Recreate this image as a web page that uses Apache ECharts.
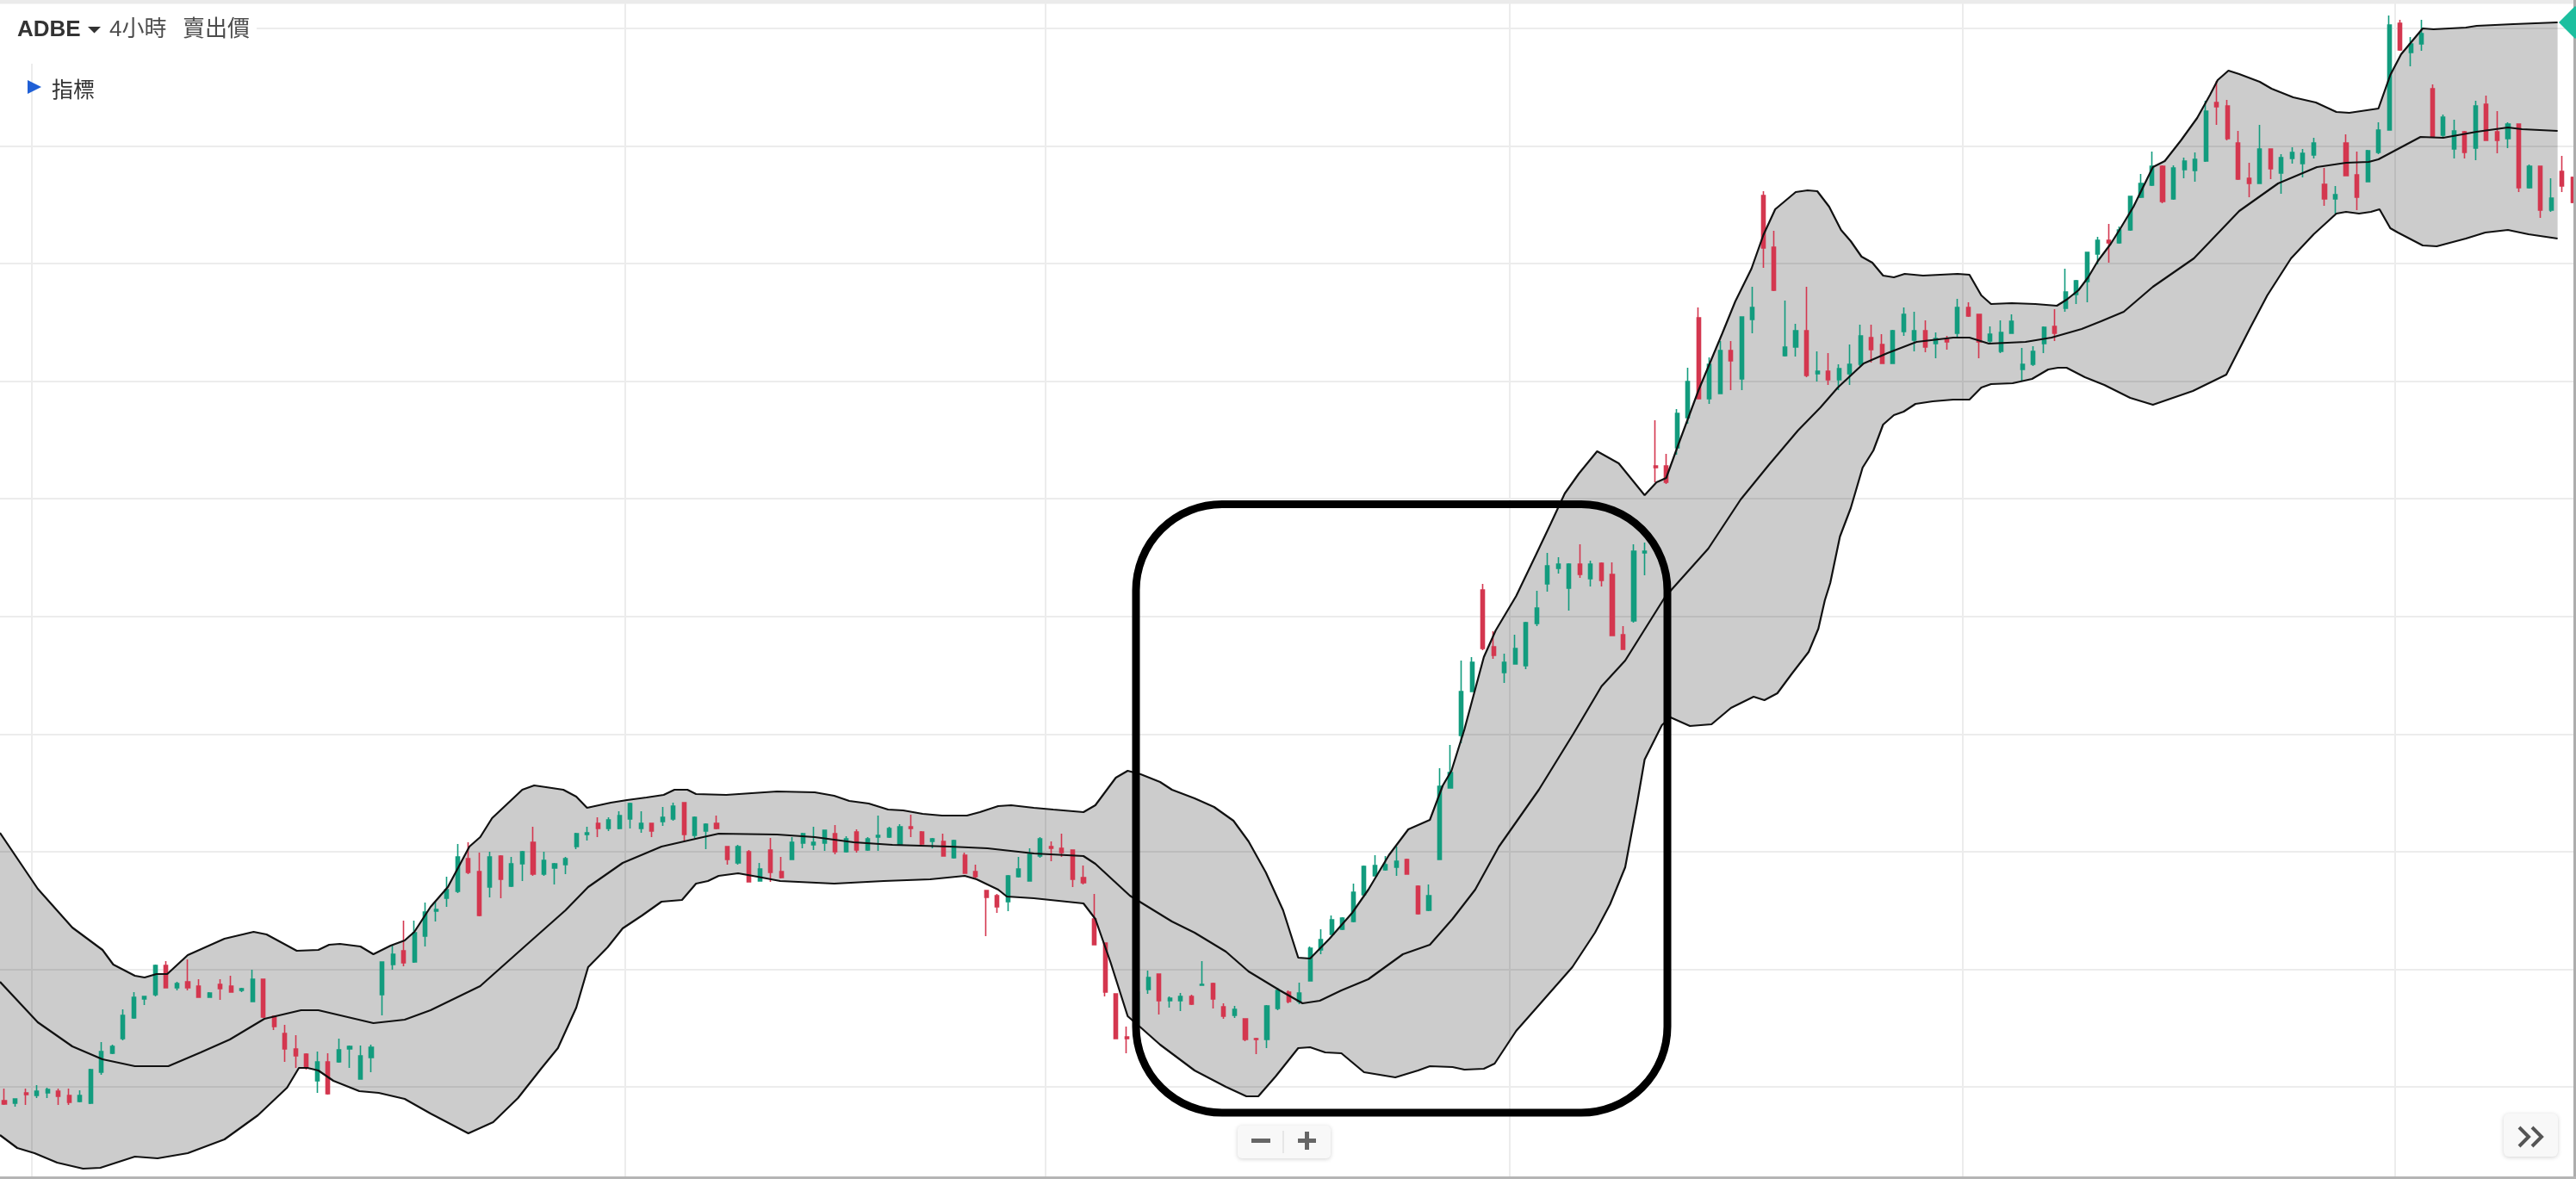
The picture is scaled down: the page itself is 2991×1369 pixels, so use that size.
<!DOCTYPE html>
<html><head><meta charset="utf-8">
<script src="https://cdn.jsdelivr.net/npm/echarts@6/dist/echarts.min.js"></script>
<style>html,body{margin:0;padding:0;background:#fff;overflow:hidden}#c{width:2991px;height:1369px}</style>
</head><body><div id="c"></div>
<script>
// ---- 4h candles (open / close / low / high) ----
const openP = [
412.2,411.9,413.1,412.8,413.1,413.3,412.8,412.1,411.9,415.5,
417.7,419.4,421.8,424.0,424.5,427.9,425.3,426.0,425.5,424.2,
425.7,425.5,425.0,423.7,426.3,422.0,420.0,418.2,417.6,414.5,
416.7,416.7,418.2,414.7,417.2,424.5,428.0,429.6,428.3,431.3,
434.2,435.7,436.5,440.3,438.8,437.0,440.6,437.1,439.7,442.2,
438.5,439.2,439.6,441.7,443.1,444.4,443.8,443.8,444.9,443.8,
444.4,444.6,444.9,446.8,443.0,443.5,444.4,441.7,439.8,441.1,
437.7,441.3,438.8,440.2,442.1,441.9,442.1,443.2,441.1,443.4,
441.3,442.8,442.8,441.9,444.0,443.4,442.3,442.3,440.4,440.7,
438.8,436.6,436.0,435.3,438.2,437.7,440.6,441.7,441.5,441.3,
438.1,433.3,430.5,424.6,419.6,421.0,425.1,426.9,423.8,423.8,
424.3,425.6,425.8,423.1,422.1,421.7,419.4,419.3,422.9,424.8,
423.7,426.1,429.7,431.5,432.1,433.0,436.1,438.3,439.0,439.3,
440.2,437.1,434.3,440.2,448.5,454.6,459.7,471.5,464.9,461.9,
462.9,462.7,467.6,472.2,474.0,471.7,474.5,472.8,474.6,473.3,
466.3,467.9,475.8,485.9,485.9,488.0,491.5,503.1,493.7,494.3,
499.3,496.0,502.9,517.3,511.3,498.7,499.7,501.6,496.6,496.9,
495.9,496.6,497.7,500.8,500.0,497.8,501.5,500.5,501.6,500.1,
500.6,501.3,504.3,503.5,500.4,499.2,501.3,497.1,497.7,500.1,
502.1,504.2,505.8,507.3,510.5,512.1,511.8,513.3,517.1,518.5,
520.7,516.9,520.3,520.2,521.3,528.1,527.7,523.4,519.3,518.7,
522.7,519.9,521.6,521.0,522.0,518.6,516.9,523.4,519.7,518.9,
522.3,524.9,537.3,533.9,534.9,529.7,524.3,522.7,524.7,522.8,
527.9,524.7,523.9,525.6,518.2,520.7,515.6,520.1,519.4];
const closeP = [
411.8,412.4,412.9,413.3,413.5,412.7,412.0,412.8,415.8,417.9,
418.5,422.1,424.2,424.3,427.9,425.3,425.8,425.3,424.2,424.7,
425.2,424.8,425.2,426.3,421.9,420.8,418.2,417.4,416.0,416.7,
413.0,418.1,418.5,417.4,418.4,428.3,429.2,428.2,431.7,434.1,
434.4,436.7,440.5,438.7,433.7,440.5,437.9,439.7,441.1,438.5,
440.1,439.7,440.3,443.2,443.3,443.8,444.8,445.3,446.7,444.4,
443.5,445.1,446.4,443.1,445.1,444.3,443.8,440.2,441.7,437.6,
439.1,438.7,438.1,442.2,443.2,442.2,443.6,441.1,442.6,441.3,
442.6,443.0,443.8,444.0,443.8,442.0,442.6,440.6,442.4,438.6,
438.2,435.8,434.7,438.3,439.1,440.8,442.6,441.5,441.0,437.9,
437.5,430.3,424.8,419.4,419.4,424.8,426.5,423.8,424.1,424.3,
423.4,425.7,424.0,422.0,422.8,419.3,419.3,423.2,425.0,423.7,
424.7,429.9,430.9,433.2,433.4,436.4,439.4,439.5,439.6,440.0,
438.5,433.9,436.0,448.7,450.3,459.7,463.1,464.7,463.9,463.1,
464.7,467.7,469.4,474.3,474.5,474.5,473.3,474.5,472.6,466.2,
464.6,476.0,476.0,485.7,484.0,492.0,495.7,493.7,497.7,499.3,
498.1,503.2,504.3,511.2,506.3,499.7,501.6,496.4,496.9,495.9,
497.2,497.7,501.0,499.4,497.8,501.6,503.5,501.6,499.7,500.7,
500.3,504.3,503.3,500.3,501.2,501.4,502.7,497.7,499.2,502.0,
501.3,506.1,507.4,510.7,512.1,511.8,513.3,517.2,518.7,520.7,
516.6,520.5,521.3,521.5,527.1,527.6,523.9,519.2,518.7,522.7,
520.4,521.7,522.3,522.2,523.4,516.9,517.4,519.6,517.1,522.5,
524.9,537.1,534.2,534.9,536.1,524.1,526.4,524.8,522.3,527.7,
523.7,523.7,525.6,518.2,520.7,515.6,517.0,518.4,516.5];
const lowP = [
411.7,411.5,411.7,412.5,412.5,411.7,411.7,412.0,411.8,415.2,
417.6,419.2,421.7,423.3,424.3,425.3,425.0,425.0,424.2,424.2,
423.9,424.8,424.8,423.7,421.8,420.4,416.7,416.0,415.8,413.1,
412.9,416.6,416.0,414.7,415.5,422.1,427.4,427.8,428.2,430.1,
433.0,434.7,436.3,438.5,433.6,435.8,435.7,437.0,437.7,438.3,
438.3,437.3,438.5,441.4,442.4,442.8,443.5,443.7,443.8,443.3,
442.8,444.1,444.7,442.4,442.7,441.4,443.7,439.6,439.6,437.6,
437.7,437.6,438.0,440.2,441.5,441.3,441.2,440.8,441.0,441.0,
441.2,441.2,442.7,441.9,442.8,441.9,441.5,440.6,440.3,438.6,
438.0,431.3,434.0,434.2,438.1,437.7,440.4,440.0,440.5,437.0,
437.3,430.3,424.3,419.4,417.7,421.0,424.6,422.2,423.0,422.6,
423.3,425.6,422.9,421.7,421.8,419.1,417.6,418.3,422.7,423.5,
423.4,426.1,429.2,431.5,432.0,432.9,435.8,438.3,438.9,438.3,
438.5,433.8,434.2,440.2,448.5,453.7,459.7,464.5,463.5,460.7,
462.9,462.3,467.3,471.3,473.4,469.1,472.9,471.9,471.9,466.2,
464.6,467.7,473.2,484.0,483.8,487.2,490.8,493.7,493.1,494.3,
494.7,494.7,501.3,508.9,506.2,498.6,498.6,496.2,495.7,495.3,
494.7,495.3,497.5,497.9,497.8,497.8,501.0,499.2,499.1,498.4,
499.4,500.9,503.2,498.4,500.1,499.0,501.3,495.7,497.5,499.0,
500.4,503.8,504.7,504.9,509.3,509.5,511.7,513.2,517.0,518.4,
516.4,516.8,519.3,518.9,521.2,525.5,523.7,519.1,517.1,518.7,
519.2,517.5,521.0,519.4,521.6,516.1,515.2,519.6,515.6,518.9,
522.1,524.9,534.1,532.3,534.1,524.0,524.1,521.6,521.6,521.4,
523.7,522.2,522.8,517.7,518.1,514.7,515.4,517.7,516.4];
const highP = [
413.6,412.4,413.6,414.0,413.7,413.6,413.6,413.4,415.9,419.0,
418.7,422.8,424.8,424.3,428.0,428.4,426.0,428.6,426.3,424.8,
426.3,426.7,425.3,427.4,426.3,422.0,421.0,419.8,417.7,417.9,
417.7,419.4,418.6,418.6,418.7,428.3,430.2,433.1,433.1,435.2,
435.3,438.2,442.0,442.2,441.0,441.1,440.7,440.5,441.2,444.0,
441.1,439.8,440.5,443.3,444.0,445.1,445.1,445.8,446.8,445.8,
444.4,446.3,446.8,446.8,445.2,444.4,445.3,441.7,441.9,441.3,
439.8,442.7,440.5,442.8,443.3,444.0,443.6,444.2,442.9,443.7,
442.8,445.3,444.0,444.3,445.4,443.5,442.7,443.2,442.5,441.0,
439.6,436.6,436.2,438.4,440.5,441.5,442.8,442.3,443.2,441.3,
439.5,436.2,430.5,424.6,420.8,425.2,427.3,426.9,424.3,424.7,
424.5,428.4,425.9,423.5,423.2,421.7,419.5,423.3,425.3,425.0,
425.9,430.1,432.1,433.7,433.5,437.4,439.5,440.7,440.6,441.7,
440.3,437.2,437.3,450.8,453.5,463.3,463.7,472.2,466.7,464.1,
466.3,467.8,471.4,475.8,475.3,474.6,476.8,474.9,474.7,474.7,
467.3,476.8,477.0,491.2,487.3,492.5,497.3,504.3,498.5,500.4,
500.4,503.2,506.7,517.8,513.2,505.1,502.4,506.7,499.2,499.0,
497.7,500.0,502.3,502.3,501.2,501.7,504.3,503.8,502.8,501.4,
501.0,505.3,504.9,503.5,502.1,502.8,503.5,499.6,499.8,502.1,
504.1,508.8,507.5,510.7,512.5,514.0,513.7,517.2,519.8,522.4,
520.8,520.8,521.7,522.3,528.3,530.6,528.4,524.8,521.1,525.5,
522.7,522.1,522.9,522.7,524.0,520.5,518.4,524.4,522.4,522.6,
525.8,538.2,537.7,535.7,537.7,530.2,526.7,526.1,524.8,528.3,
528.9,527.1,525.8,525.6,520.9,520.7,519.3,521.9,519.5];

// ---- Bollinger band (candle index, price) ----
const upperBand = [[-0.4,443.3],[3.1,436.8],[6.3,432.3],[9.1,429.7],[10.1,428.0],[12.1,426.7],[13.0,426.5],[14.1,426.9],[15.1,426.9],[17.0,429.1],[20.4,431.0],[23.1,431.8],[24.3,431.5],[27.1,429.6],[29.1,429.7],[30.1,430.3],[31.1,430.4],[33.0,430.1],[34.2,429.2],[35.8,430.2],[37.1,430.8],[38.0,431.8],[39.5,434.7],[41.1,437.0],[43.1,441.7],[44.1,442.8],[45.2,445.0],[48.0,448.3],[49.1,448.8],[50.2,448.6],[51.8,448.3],[53.0,447.5],[54.0,446.2],[56.2,446.8],[57.7,447.1],[59.5,447.4],[61.1,447.7],[62.1,448.3],[63.3,448.3],[64.1,447.8],[66.9,447.7],[71.6,448.1],[75.1,448.0],[76.9,447.6],[78.3,447.0],[80.1,446.7],[81.9,446.0],[83.3,445.9],[85.1,445.5],[86.9,445.3],[89.2,445.3],[90.4,445.7],[92.1,446.4],[93.3,446.5],[95.4,446.2],[97.2,446.0],[100.0,445.7],[101.1,446.5],[103.0,449.7],[104.1,450.5],[105.3,450.1],[107.1,449.2],[108.2,448.3],[110.3,447.3],[112.1,446.3],[113.9,444.7],[115.3,442.3],[116.9,438.7],[118.5,434.3],[119.9,428.8],[121.0,428.7],[122.8,431.0],[124.9,434.0],[126.4,436.7],[128.3,440.7],[130.1,443.7],[132.1,444.8],[133.3,448.8],[134.1,450.5],[135.3,455.3],[137.1,463.7],[138.2,466.8],[140.1,470.8],[141.9,475.5],[143.3,479.2],[144.6,482.7],[145.9,485.0],[147.6,487.6],[149.6,486.2],[152.0,482.5],[153.1,484.0],[154.0,484.5],[155.1,488.3],[157.0,494.7],[159.2,501.3],[160.4,505.0],[161.9,508.8],[163.0,512.7],[164.1,515.7],[166.0,517.7],[167.1,517.9],[168.0,517.8],[169.1,516.0],[170.2,513.3],[171.1,512.0],[172.1,510.2],[173.1,509.5],[174.1,508.0],[175.1,507.8],[176.1,508.2],[177.8,508.0],[181.0,508.2],[182.1,508.1],[183.2,505.7],[184.1,504.7],[186.0,504.8],[188.2,504.7],[190.2,504.5],[191.1,505.2],[192.2,506.3],[193.1,507.8],[194.0,509.7],[195.2,511.7],[196.1,513.5],[197.3,516.0],[199.1,520.6],[200.2,521.3],[201.7,523.7],[203.2,526.3],[204.4,529.0],[205.1,530.7],[206.1,531.8],[207.1,531.4],[209.0,530.5],[210.1,529.7],[212.1,528.7],[214.2,528.1],[216.1,527.0],[217.3,526.9],[220.0,527.4],[221.1,531.3],[222.1,533.7],[224.1,536.7],[225.1,536.6],[228.1,536.8],[229.1,537.0],[232.5,537.2],[236.6,537.4]];
const middleBand = [[-0.4,426.0],[3.1,421.3],[6.3,418.5],[9.1,417.0],[12.1,416.2],[15.2,416.2],[18.2,417.8],[20.9,419.3],[24.1,421.7],[27.5,422.7],[29.1,422.7],[34.2,421.2],[37.1,421.6],[39.5,422.7],[44.1,425.5],[48.4,430.3],[52.0,434.3],[54.1,437.0],[57.3,439.8],[60.9,441.7],[64.4,442.7],[66.2,443.2],[71.6,443.1],[75.1,442.8],[76.9,442.5],[78.7,442.2],[82.3,441.9],[87.6,441.7],[91.1,441.5],[95.4,440.9],[100.0,440.6],[101.1,439.7],[104.3,436.0],[108.2,433.0],[110.3,431.7],[113.2,429.5],[115.3,427.2],[118.2,425.0],[120.3,423.5],[121.9,423.8],[123.9,425.0],[126.4,426.3],[129.6,429.2],[132.1,430.3],[134.2,433.3],[136.3,436.7],[138.5,441.7],[142.2,448.3],[145.4,454.8],[148.0,460.3],[150.2,463.3],[153.9,470.7],[157.9,476.3],[160.9,482.0],[163.5,486.0],[166.2,490.0],[168.3,492.7],[169.9,495.0],[172.3,497.8],[174.5,499.0],[177.2,500.3],[180.6,500.8],[182.1,500.8],[183.9,500.1],[187.3,500.3],[189.7,500.8],[192.5,501.8],[194.3,502.7],[196.4,503.8],[199.1,506.7],[202.9,510.0],[207.1,515.5],[210.7,518.7],[214.3,520.6],[217.0,521.1],[219.1,521.2],[220.0,521.5],[221.5,522.5],[223.9,524.1],[226.0,524.0],[229.1,524.7],[232.0,525.2],[233.3,525.0],[236.6,524.8]];
const lowerBand = [[-0.4,408.2],[1.2,406.7],[2.8,406.1],[4.9,405.0],[7.3,404.3],[8.9,404.4],[12.1,405.7],[14.2,405.5],[17.0,406.1],[20.4,407.7],[23.5,410.5],[26.2,413.7],[27.3,416.0],[28.1,416.0],[29.1,415.7],[30.5,414.5],[32.9,413.3],[34.7,413.1],[37.1,412.4],[39.5,410.7],[43.0,408.4],[45.3,409.7],[47.6,412.5],[49.8,416.0],[51.3,418.3],[53.0,423.0],[54.1,427.7],[55.9,430.0],[57.3,432.2],[59.1,433.7],[60.9,435.3],[62.8,435.5],[64.1,437.4],[65.2,437.7],[66.2,438.3],[68.0,438.6],[69.8,438.2],[71.9,437.7],[76.9,437.4],[81.5,437.7],[85.8,437.9],[89.0,438.3],[90.1,437.9],[92.1,436.7],[92.9,435.9],[95.4,435.7],[100.0,435.1],[101.1,433.3],[102.5,428.3],[104.1,422.0],[105.3,420.7],[107.1,418.7],[110.3,415.7],[113.2,413.8],[115.1,412.7],[116.2,412.7],[117.8,415.0],[119.9,418.3],[121.0,418.4],[122.4,417.8],[123.9,417.7],[126.0,415.5],[128.9,414.9],[131.0,415.7],[132.1,416.2],[134.2,416.1],[135.3,415.8],[137.1,415.9],[138.1,416.5],[140.1,420.3],[142.0,423.0],[145.3,427.7],[147.4,431.7],[148.8,435.0],[150.2,439.3],[151.3,446.7],[152.0,451.8],[153.6,455.8],[154.4,456.7],[156.2,455.7],[158.2,455.9],[160.0,457.8],[162.1,459.1],[163.1,458.7],[164.3,459.5],[165.6,461.7],[167.2,464.3],[168.1,467.0],[168.7,470.3],[169.2,472.3],[170.1,477.7],[171.1,481.0],[172.2,485.7],[173.2,487.7],[174.1,490.7],[175.1,491.8],[176.0,492.2],[177.1,493.1],[178.7,493.4],[180.6,493.6],[182.1,493.6],[183.2,495.0],[184.1,495.4],[186.1,495.5],[187.9,496.0],[189.4,497.1],[190.3,497.3],[191.1,497.3],[192.8,496.2],[194.6,495.3],[197.0,493.8],[199.1,493.0],[202.8,494.6],[205.9,496.5],[208.1,501.9],[209.7,505.7],[211.9,510.0],[214.0,512.8],[216.1,515.2],[217.0,515.4],[218.2,515.2],[219.3,515.4],[220.1,515.7],[221.1,513.5],[221.8,513.0],[224.1,511.5],[225.4,511.4],[228.1,512.3],[229.9,513.0],[232.0,513.3],[233.9,512.8],[236.6,512.3]];

// first candle of each trading session (vertical grid lines)
const sessionStarts = [3, 58, 97, 140, 182, 222];

const N = Math.min(openP.length, closeP.length, lowP.length, highP.length);
const categories = Array.from({length: N}, (_, i) => String(i));
const ohlc = [];
for (let i = 0; i < N; i++) ohlc.push([openP[i], closeP[i], lowP[i], highP[i]]);

const UP = '#139c7e', DOWN = '#d4374f';
const FONT = '"Liberation Sans", Arial, "Noto Sans CJK TC", sans-serif';

const chart = echarts.init(document.getElementById('c'), null, {renderer: 'canvas'});
const lineStyleBand = {color: '#111', width: 2.2};
chart.setOption({
  animation: false,
  backgroundColor: '#fff',
  grid: {left: -1.27, top: 0, width: 2994.7, height: 1398.8, containLabel: false, outerBoundsMode: 'none'},
  xAxis: [{
    type: 'category', data: categories, boundaryGap: true,
    axisLine: {show: false}, axisTick: {show: false}, axisLabel: {show: false},
    splitLine: {show: true, interval: (idx) => sessionStarts.indexOf(idx) >= 0,
      lineStyle: {color: '#ececec', width: 2}}
  }, {
    type: 'value', min: -0.5, max: N - 0.5, show: false
  }],
  yAxis: {
    type: 'value', min: 400.12, max: 540, interval: 13.66, scale: true,
    axisLine: {show: false}, axisTick: {show: false}, axisLabel: {show: false},
    splitLine: {show: true, lineStyle: {color: '#ececec', width: 2}}
  },
  series: [{
    type: 'custom', xAxisIndex: 1, yAxisIndex: 0, silent: true, z: 1, data: [0],
    renderItem: function (params, api) {
      const pts = upperBand.map(p => api.coord(p))
        .concat(lowerBand.slice().reverse().map(p => api.coord(p)));
      return {type: 'polygon', shape: {points: pts}, style: {fill: 'rgba(0,0,0,0.2)'}};
    }
  }, {
    type: 'candlestick', xAxisIndex: 0, data: ohlc, z: 2, barWidth: 4.6,
    itemStyle: {color: UP, color0: DOWN, borderColor: UP, borderColor0: DOWN, borderWidth: 1.6}
  }, {
    type: 'line', xAxisIndex: 1, data: upperBand, symbol: 'none', z: 3, silent: true, lineStyle: lineStyleBand
  }, {
    type: 'line', xAxisIndex: 1, data: middleBand, symbol: 'none', z: 3, silent: true, lineStyle: lineStyleBand
  }, {
    type: 'line', xAxisIndex: 1, data: lowerBand, symbol: 'none', z: 3, silent: true, lineStyle: lineStyleBand
  }],
  graphic: {elements: [
    {type: 'rect', z: 100, shape: {x: 0, y: 4, width: 298, height: 70}, style: {fill: '#fff'}},
    {type: 'rect', z: 101, shape: {x: 0, y: 0, width: 2991, height: 4.5}, style: {fill: '#ebebeb'}},
    {type: 'text', z: 102, x: 20, y: 35, style: {text: 'ADBE', font: 'bold 26px ' + FONT, fill: '#333', verticalAlign: 'middle'}},
    {type: 'polygon', z: 102, shape: {points: [[102, 31], [117, 31], [109.5, 38.5]]}, style: {fill: '#333'}},
    {type: 'text', z: 102, x: 127, y: 35, style: {text: '4小時', font: '26px ' + FONT, fill: '#4d4d4d', verticalAlign: 'middle'}},
    {type: 'text', z: 102, x: 212, y: 35, style: {text: '賣出價', font: '26px ' + FONT, fill: '#4d4d4d', verticalAlign: 'middle'}},
    {type: 'polygon', z: 102, shape: {points: [[32, 93], [48, 101], [32, 109]]}, style: {fill: '#1f5fd6'}},
    {type: 'text', z: 102, x: 60, y: 106, style: {text: '指標', font: '25px ' + FONT, fill: '#333', verticalAlign: 'middle'}},
    // highlight box
    {type: 'rect', z: 110, shape: {x: 1319, y: 585.5, width: 617, height: 706.5, r: 100}, style: {fill: 'none', stroke: '#000', lineWidth: 9}},
    // zoom buttons
    {type: 'rect', z: 110, shape: {x: 1437, y: 1307, width: 108, height: 38, r: 5}, style: {fill: '#f8f8f8', shadowBlur: 5, shadowColor: 'rgba(0,0,0,0.18)', shadowOffsetY: 1}},
    {type: 'line', z: 111, shape: {x1: 1490, y1: 1313, x2: 1490, y2: 1339}, style: {stroke: '#e0e0e0', lineWidth: 1.5}},
    {type: 'rect', z: 111, shape: {x: 1453, y: 1322, width: 22, height: 5}, style: {fill: '#666'}},
    {type: 'rect', z: 111, shape: {x: 1507, y: 1322, width: 21, height: 5}, style: {fill: '#666'}},
    {type: 'rect', z: 111, shape: {x: 1515, y: 1314, width: 5, height: 21}, style: {fill: '#666'}},
    // scroll-to-end button
    {type: 'rect', z: 110, shape: {x: 2907, y: 1293, width: 63, height: 50, r: 6}, style: {fill: '#f8f8f8', shadowBlur: 5, shadowColor: 'rgba(0,0,0,0.18)', shadowOffsetY: 1}},
    {type: 'polyline', z: 111, shape: {points: [[2925, 1309], [2936, 1320], [2925, 1331]]}, style: {stroke: '#555', lineWidth: 4, fill: null}},
    {type: 'polyline', z: 111, shape: {points: [[2940, 1309], [2951, 1320], [2940, 1331]]}, style: {stroke: '#555', lineWidth: 4, fill: null}},
    // frame
    {type: 'rect', z: 112, shape: {x: 2988, y: 0, width: 3, height: 1369}, style: {fill: '#adadad'}},
    {type: 'rect', z: 112, shape: {x: 0, y: 1366, width: 2991, height: 3}, style: {fill: '#b5b5b5'}},
    // last price marker
    {type: 'polygon', z: 113, shape: {points: [[2971, 26], [2990, 7], [3009, 26], [2990, 45]]}, style: {fill: '#1cbf9f'}}
  ]}
});
</script>
</body></html>
